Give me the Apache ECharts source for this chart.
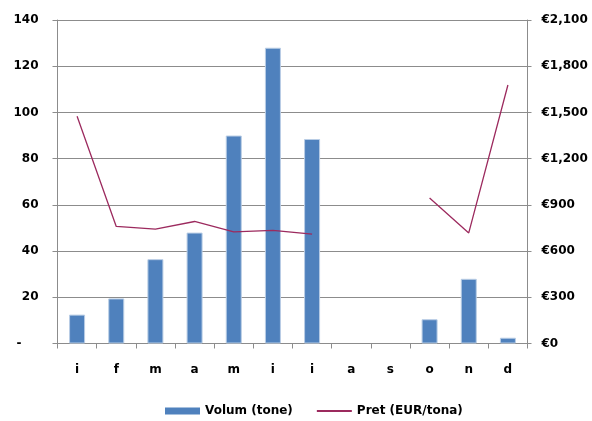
<!DOCTYPE html>
<html><head><meta charset="utf-8">
<script src="https://cdn.jsdelivr.net/npm/echarts@6/dist/echarts.min.js"></script>
<style>html,body{margin:0;padding:0;background:#fff}#c{width:592px;height:421px}</style>
</head><body><div id="c"></div>
<script>
var categories = ['i','f','m','a','m','i','i','a','s','o','n','d'];
var volum = [12.5,19.5,36.5,48,90,128,88.5,0,0,10.5,28,2.5];
var pret = [1475,760,742,792,725,734,710,null,null,945,718,1678];
var leftTicks = {min:0,max:140,interval:20};
var rightTicks = {min:0,max:2100,interval:300};

var font = {fontFamily:'DejaVu Sans', fontWeight:'bold', fontSize:12, color:'#000'};
var gray = '#8c8c8c';
var chart = echarts.init(document.getElementById('c'), null, {renderer:'canvas'});
chart.setOption({
  animation:false,
  grid:{left:57.5, right:64.5, top:20, bottom:77.5, containLabel:false},
  legend:{
    left:165, top:405, padding:0, itemWidth:35, itemHeight:7, itemGap:23,
    textStyle:Object.assign({}, font),
    data:[
      {name:'Volum (tone)', icon:'rect', itemStyle:{borderWidth:0, color:'#4f81bd'}},
      {name:'Pret (EUR/tona)', itemStyle:{color:'rgba(0,0,0,0)', borderColor:'rgba(0,0,0,0)', borderWidth:0}}
    ]
  },
  xAxis:{
    type:'category', data:categories, boundaryGap:true,
    axisLine:{lineStyle:{color:gray}},
    axisTick:{show:true, interval:0, length:5, lineStyle:{color:gray}},
    axisLabel:Object.assign({}, font, {margin:20, interval:0})
  },
  yAxis:[{
    type:'value', min:leftTicks.min, max:leftTicks.max, interval:leftTicks.interval,
    axisLine:{show:true, lineStyle:{color:gray}},
    axisTick:{show:true, length:5, lineStyle:{color:gray}},
    splitLine:{show:true, lineStyle:{color:gray, width:1}},
    axisLabel:Object.assign({}, font, {margin:19,
      formatter:function(v){return v===0?'{d|-}':String(v);},
      rich:{d:Object.assign({}, font, {padding:[0,17,0,0]})}})
  },{
    type:'value', min:rightTicks.min, max:rightTicks.max, interval:rightTicks.interval, position:'right',
    axisLine:{show:true, lineStyle:{color:gray}},
    axisTick:{show:true, length:4, lineStyle:{color:gray}},
    splitLine:{show:false},
    axisLabel:Object.assign({}, font, {margin:14,
      formatter:function(v){return '€'+v.toLocaleString('en-US');}})
  }],
  series:[{
    name:'Volum (tone)', type:'bar', yAxisIndex:0, barWidth:16,
    data:volum.map(function(v){return v===0?{value:v,itemStyle:{borderWidth:0}}:v;}),
    itemStyle:{color:'#4f81bd', borderColor:'#b9cde5', borderWidth:1}
  },{
    name:'Pret (EUR/tona)', type:'line', yAxisIndex:1, data:pret, connectNulls:false,
    symbol:'none', lineStyle:{color:'#9c2a5e', width:1.3}, itemStyle:{color:'#9c2a5e'}
  }]
});
</script></body></html>
